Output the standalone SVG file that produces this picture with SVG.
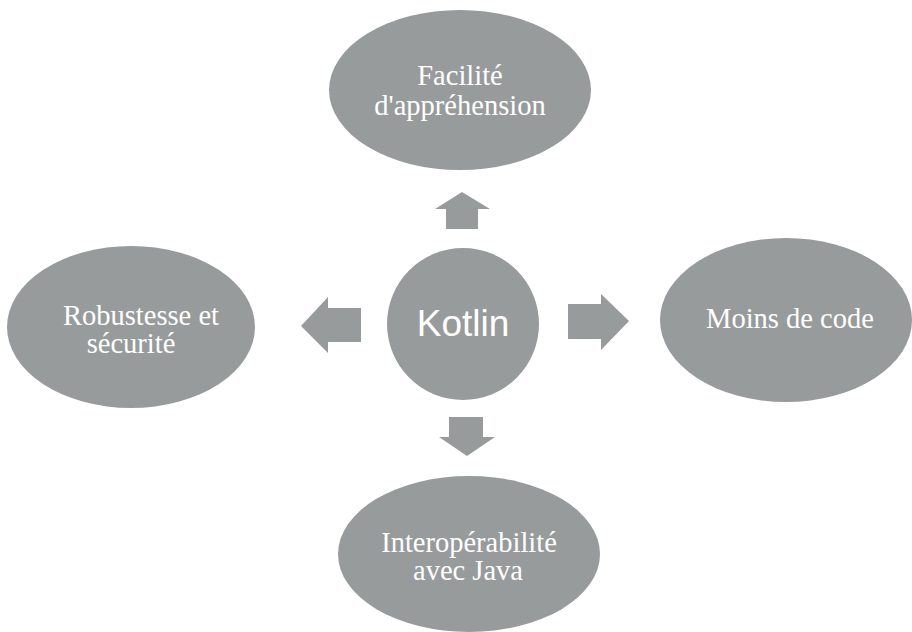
<svg xmlns="http://www.w3.org/2000/svg" width="912" height="632" viewBox="0 0 912 632">
<style>
.n{fill:#989b9c}
.t{fill:#ffffff;font-family:"Liberation Serif","Times New Roman",serif;font-size:28.5px;text-anchor:middle}
.k{fill:#ffffff;font-family:"Liberation Sans",Arial,sans-serif;font-size:37px;text-anchor:middle}
.a{fill:#989b9c}
</style>
<rect width="912" height="632" fill="#ffffff"/>
<g id="connectors">
<polygon class="a" points="462,192 490,209 478,209 478,229 446,229 446,209 435,209"/>
<polygon class="a" points="449,417 483,417 483,437 495,437 467,456 439,437 449,437"/>
<polygon class="a" points="301,326 328,297 328,308 361,308 361,342 328,342 328,353"/>
<polygon class="a" points="568,304 601,304 601,294 629,321 601,350 601,339 568,339"/>
</g>
<g id="node-kotlin">
<circle class="n" cx="463" cy="324" r="76"/>
<text class="k" x="463" y="336">Kotlin</text>
</g>
<g id="node-facilite">
<ellipse class="n" cx="460" cy="90" rx="131" ry="80"/>
<text class="t" x="460" y="85">Facilité</text>
<text class="t" x="460" y="115">d'appréhension</text>
</g>
<g id="node-robustesse">
<ellipse class="n" cx="131" cy="327" rx="124" ry="81"/>
<text class="t" x="141" y="325">Robustesse et</text>
<text class="t" x="131" y="353">sécurité</text>
</g>
<g id="node-moins">
<ellipse class="n" cx="786" cy="320" rx="126" ry="82"/>
<text class="t" x="790" y="328">Moins de code</text>
</g>
<g id="node-interop">
<ellipse class="n" cx="469" cy="554" rx="131" ry="78"/>
<text class="t" x="469" y="552">Interopérabilité</text>
<text class="t" x="468" y="580">avec Java</text>
</g>
</svg>
